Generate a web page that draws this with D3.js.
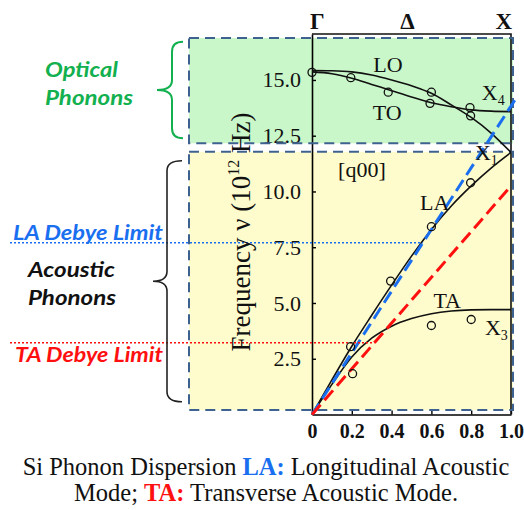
<!DOCTYPE html>
<html>
<head>
<meta charset="utf-8">
<script src="https://cdn.jsdelivr.net/npm/d3@7"></script>
<style>
  html, body { margin: 0; padding: 0; background: #fff; }
  svg { display: block; }
</style>
</head>
<body>
<svg id="chart" width="524" height="510"></svg>
<script>
// Silicon phonon dispersion along Γ–X ([q00]); q in units of 2π/a, ν in 10^12 Hz
const qGrid   = [0, 0.1, 0.2, 0.3, 0.4, 0.5, 0.6, 0.7, 0.8, 0.9, 1.0];
const nuLO    = [15.42, 15.41, 15.36, 15.22, 15.0, 14.74, 14.4, 13.88, 13.32, 12.62, 11.75];
const nuTO    = [15.36, 15.28, 15.08, 14.8, 14.52, 14.24, 13.98, 13.8, 13.66, 13.6, 13.58];
const nuLA    = [0, 1.55, 3.06, 4.45, 5.8, 7.1, 8.3, 9.35, 10.25, 11.05, 11.75];
const nuTA    = [0, 1.35, 2.58, 3.42, 3.96, 4.3, 4.52, 4.64, 4.69, 4.7, 4.7];

// Measured (neutron scattering) points
const measQ   = [0, 0.195, 0.383, 0.6, 0.593, 0.794, 0.797, 0.194, 0.204, 0.395, 0.6, 0.6, 0.797, 0.8];
const measNu  = [15.34, 15.1, 14.45, 14.45, 13.95, 13.76, 13.39, 3.04, 1.83, 5.98, 8.42, 3.99, 10.39, 4.26];

// Debye (linear) approximations: slope dν/dq and the Debye-limit frequency
const debyeModes  = ["LA", "TA"];
const debyeSlope  = [13.83, 10.25];
const debyeQEnd   = [1.02, 1.0];
const debyeLimit  = [7.7, 3.22];

const yTicks = [2.5, 5.0, 7.5, 10.0, 12.5, 15.0];
const xTicks = [0, 0.2, 0.4, 0.6, 0.8, 1.0];

const svg = d3.select("#chart");
const serif = "'Liberation Serif', 'Times New Roman', serif";
const sans  = "Lato, 'Open Sans', sans-serif";
const blue = "#1a6ff0", red = "#ff1010", green = "#12b04e", boxStroke = "#3e6290";

const x = d3.scaleLinear().domain([0, 1]).range([312, 511]);
const y = d3.scaleLinear().domain([0, 17.06]).range([414.5, 34]);

// Shaded regions for optical and acoustic branches
const regions = [
  { fill: "#c9f7c9", top: 16.88, bottom: 12.16 },
  { fill: "#fefccc", top: 11.78, bottom: 0.2 }
];
const boxLeft = 189, boxRight = 513;
svg.selectAll("rect.region").data(regions).join("rect")
  .attr("class", "region")
  .attr("x", boxLeft).attr("width", boxRight - boxLeft)
  .attr("y", d => y(d.top)).attr("height", d => y(d.bottom) - y(d.top))
  .attr("fill", d => d.fill);

// Axes
const gy = svg.append("g").attr("transform", `translate(${x(0)},0)`)
  .call(d3.axisLeft(y).tickValues(yTicks).tickFormat(d3.format(".1f"))
    .tickSizeInner(-4).tickSizeOuter(0).tickPadding(11));
gy.selectAll("text").attr("font-family", serif).attr("font-size", 22).attr("fill", "#111");
gy.select(".domain").attr("stroke-width", 1.6);
gy.selectAll(".tick line").attr("stroke-width", 1.4);

const gx = svg.append("g").attr("transform", `translate(0,${y(0)})`)
  .call(d3.axisBottom(x).tickValues(xTicks).tickFormat(d => d === 0 ? "0" : d3.format(".1f")(d))
    .tickSizeInner(-4).tickSizeOuter(0).tickPadding(9));
gx.selectAll("text").attr("font-family", serif).attr("font-size", 20).attr("font-weight", "bold").attr("fill", "#111");
gx.select(".domain").attr("stroke-width", 1.6);
gx.selectAll(".tick line").attr("stroke-width", 1.4);

// Frame top and right
svg.append("path")
  .attr("d", `M${x(0)},${y(17.06)}H${x(1)}V${y(0)}`)
  .attr("fill", "none").attr("stroke", "#111").attr("stroke-width", 1.6);

// Dashed outlines of the regions
svg.selectAll("rect.outline").data(regions).join("rect")
  .attr("class", "outline")
  .attr("x", boxLeft).attr("width", boxRight - boxLeft)
  .attr("y", d => y(d.top)).attr("height", d => y(d.bottom) - y(d.top))
  .attr("fill", "none").attr("stroke", boxStroke).attr("stroke-width", 2)
  .attr("stroke-dasharray", "10,6");

// Dispersion curves
const line = d3.line().x(d => x(d[0])).y(d => y(d[1])).curve(d3.curveMonotoneX);
[nuLO, nuTO, nuLA, nuTA].forEach(branch => {
  svg.append("path")
    .attr("d", line(qGrid.map((q, i) => [q, branch[i]])))
    .attr("fill", "none").attr("stroke", "#111").attr("stroke-width", 1.6);
});

// Debye lines and limits
debyeModes.forEach((m, i) => {
  const c = m === "LA" ? blue : red;
  svg.append("line")
    .attr("x1", x(0)).attr("y1", y(0))
    .attr("x2", x(debyeQEnd[i])).attr("y2", y(debyeSlope[i] * debyeQEnd[i]))
    .attr("stroke", c).attr("stroke-width", 3).attr("stroke-dasharray", "13,6");
  svg.append("line")
    .attr("x1", 10).attr("x2", x(debyeLimit[i] / debyeSlope[i]))
    .attr("y1", y(debyeLimit[i])).attr("y2", y(debyeLimit[i]))
    .attr("stroke", c).attr("stroke-width", 1.6).attr("stroke-dasharray", "2,2");
});

// Measured points
svg.selectAll("circle.meas").data(measQ.map((q, i) => [q, measNu[i]])).join("circle")
  .attr("class", "meas")
  .attr("cx", d => x(d[0])).attr("cy", d => y(d[1])).attr("r", 4)
  .attr("fill", "none").attr("stroke", "#111").attr("stroke-width", 1.3);

// Branch labels (placed in data units)
const branchLabels = [
  ["LO", 0.308, 15.37], ["TO", 0.305, 13.2], ["LA", 0.543, 9.17], ["TA", 0.61, 4.76]
];
branchLabels.forEach(([t, q, v]) => {
  svg.append("text").attr("x", x(q)).attr("y", y(v)).text(t)
    .attr("font-family", serif).attr("font-size", 22).attr("fill", "#111");
});
const pointLabels = [["X", "4", 0.853, 14.1], ["X", "1", 0.819, 11.41], ["X", "3", 0.869, 3.57]];
pointLabels.forEach(([t, s, q, v]) => {
  const tx = svg.append("text").attr("x", x(q)).attr("y", y(v))
    .attr("font-family", serif).attr("font-size", 22).attr("fill", "#111");
  tx.append("tspan").text(t);
  tx.append("tspan").text(s).attr("font-size", 14).attr("dy", 5);
});
svg.append("text").attr("x", x(0.131)).attr("y", y(10.66)).text("[q00]")
  .attr("font-family", serif).attr("font-size", 22).attr("fill", "#111");

// Symmetry points
const symLabels = ["Γ", "Δ", "X"];
const symQ = [0, 0.48, 1];
symLabels.forEach((t, i) => {
  svg.append("text")
    .attr("x", x(symQ[i]) + (i === 0 ? -2 : i === 2 ? 1 : 0))
    .attr("y", 29)
    .attr("text-anchor", i === 0 ? "start" : i === 2 ? "end" : "middle")
    .attr("font-family", serif).attr("font-size", 23).attr("font-weight", "bold").attr("fill", "#111")
    .text(t);
});

// Y axis title
const yt = svg.append("text")
  .attr("transform", `translate(250,232) rotate(-90)`)
  .attr("text-anchor", "middle")
  .attr("font-family", serif).attr("font-size", 27).attr("fill", "#111");
yt.append("tspan").text("Frequency ν (10");
yt.append("tspan").text("12").attr("font-size", 16).attr("dy", -11);
yt.append("tspan").text(" Hz)").attr("dy", 11);

// Braces
function brace(xEnd, xV, xTip, yTop, yBot) {
  const yMid = (yTop + yBot) / 2, r = 10;
  return `M${xEnd},${yTop}Q${xV},${yTop} ${xV},${yTop + r}L${xV},${yMid - r}` +
         `Q${xV},${yMid} ${xTip},${yMid}Q${xV},${yMid} ${xV},${yMid + r}` +
         `L${xV},${yBot - r}Q${xV},${yBot} ${xEnd},${yBot}`;
}
svg.append("path").attr("d", brace(183, 172, 157, 41.7, 138.3))
  .attr("fill", "none").attr("stroke", green).attr("stroke-width", 2);
svg.append("path").attr("d", brace(182, 167, 153, 160.7, 401.7))
  .attr("fill", "none").attr("stroke", "#222").attr("stroke-width", 1.6);

// Side annotations: [text, x, baseline, colour, width]
const notes = [
  ["Optical", 45, 77, green, 73], ["Phonons", 45, 105, green, 88],
  ["LA Debye Limit", 13, 239.5, blue, 150],
  ["Acoustic", 28, 277, "#111", 87], ["Phonons", 28, 305, "#111", 88],
  ["TA Debye Limit", 15, 361.5, red, 148]
];
notes.forEach(([t, nx, ny, c, w]) => {
  svg.append("text").attr("x", nx).attr("y", ny).text(t)
    .attr("font-family", sans).attr("font-size", 21).attr("font-weight", "bold")
    .attr("font-style", "italic").attr("fill", c)
    .attr("textLength", w).attr("lengthAdjust", "spacingAndGlyphs");
});

// Caption
const cap1 = svg.append("text").attr("x", 266).attr("y", 475).attr("text-anchor", "middle")
  .attr("font-family", serif).attr("font-size", 24.5).attr("fill", "#111");
cap1.append("tspan").text("Si Phonon Dispersion ");
cap1.append("tspan").text("LA:").attr("fill", blue).attr("font-weight", "bold");
cap1.append("tspan").text(" Longitudinal Acoustic");
const cap2 = svg.append("text").attr("x", 266).attr("y", 501).attr("text-anchor", "middle")
  .attr("font-family", serif).attr("font-size", 24.5).attr("fill", "#111");
cap2.append("tspan").text("Mode; ");
cap2.append("tspan").text("TA:").attr("fill", red).attr("font-weight", "bold");
cap2.append("tspan").text(" Transverse Acoustic Mode.");
</script>
</body>
</html>
